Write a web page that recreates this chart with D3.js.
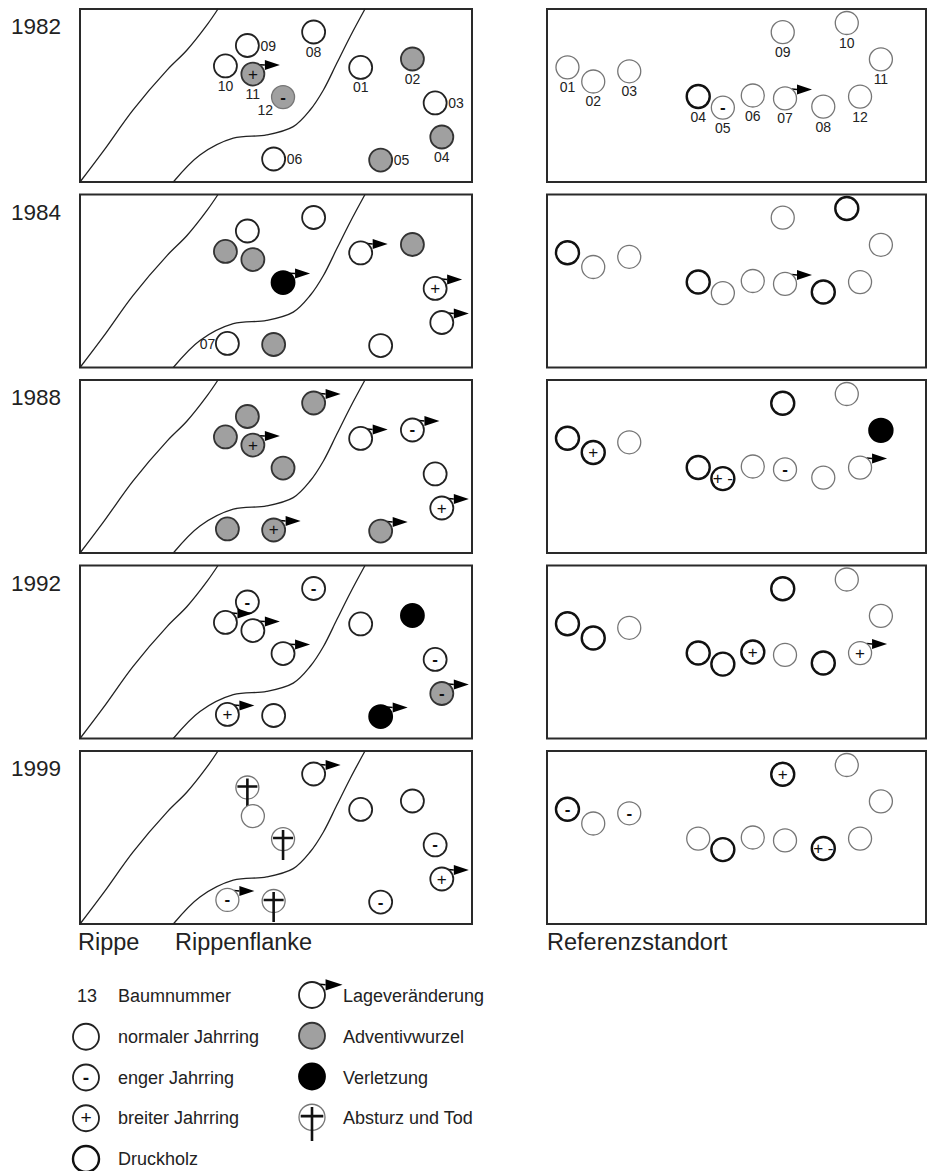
<!DOCTYPE html>
<html lang="de">
<head>
<meta charset="UTF-8">
<title>Baumzustand Rippe / Referenzstandort</title>
<script src="https://d3js.org/d3.v7.min.js"></script>
<style>
  body { margin: 0; background: #fff; }
  svg { display: block; font-family: "Liberation Sans", Arial, sans-serif; }
</style>
</head>
<body>
<svg id="chart" width="928" height="1171"></svg>
<script>
const years = ["1982", "1984", "1988", "1992", "1999"];
const treeIds = ["01", "02", "03", "04", "05", "06", "07", "08", "09", "10", "11", "12"];

// tree positions, percent of panel width / height
const rippeX = [71.6, 84.8, 90.6, 92.3, 76.7, 49.4, 37.6, 59.6, 42.7, 37.1, 44.1, 51.8];
const rippeY = [33.8, 28.9, 54.3, 74.0, 87.3, 86.7, 86.1, 13.3, 21.1, 32.9, 37.6, 50.9];
const refX = [5.4, 12.2, 21.7, 39.9, 46.4, 54.3, 62.8, 72.9, 62.2, 79.1, 88.1, 82.6];
const refY = [33.7, 41.9, 36.0, 50.6, 57.0, 50.0, 51.7, 56.4, 13.4, 8.1, 29.1, 50.6];

// terrain lines on the slope site (percent)
const ridgeLine = [[0, 100], [6, 82], [13.5, 58.4], [22.2, 35.3], [27.3, 23.7], [32.4, 9.2], [35.2, 0]];
const flankLine = [[23.8, 100], [30.6, 84.4], [39.1, 74.7], [47.6, 72.8], [54.4, 68], [58.7, 58.4],
                   [62.1, 46.8], [65.5, 31.4], [68.9, 16], [72.7, 0]];

// state per tree: [id, fill (w/g/b), ring (n normal, t thin, d Druckholz), sign, moved]
const rippe1982 = [["01","w","n","",0],["02","g","n","",0],["03","w","n","",0],["04","g","n","",0],
  ["05","g","n","",0],["06","w","n","",0],["08","w","n","",0],["09","w","n","",0],["10","w","n","",0],
  ["11","g","n","+",1],["12","g","t","-",0]];
const rippe1984 = [["01","w","n","",1],["02","g","n","",0],["03","w","n","+",1],["04","w","n","",1],
  ["05","w","n","",0],["06","g","n","",0],["07","w","n","",0],["08","w","n","",0],["09","w","n","",0],
  ["10","g","n","",0],["11","g","n","",0],["12","b","n","",1]];
const rippe1988 = [["01","w","n","",1],["02","w","n","-",1],["03","w","n","",0],["04","w","n","+",1],
  ["05","g","n","",1],["06","g","n","+",1],["07","g","n","",0],["08","g","n","",1],["09","g","n","",0],
  ["10","g","n","",0],["11","g","n","+",1],["12","g","n","",0]];
const rippe1992 = [["01","w","n","",0],["02","b","n","",0],["03","w","n","-",0],["04","g","n","-",1],
  ["05","b","n","",1],["06","w","n","",0],["07","w","n","+",1],["08","w","n","-",0],["09","w","n","-",0],
  ["10","w","n","",1],["11","w","n","",1],["12","w","n","",1]];
const rippe1999 = [["01","w","n","",0],["02","w","n","",0],["03","w","n","-",0],["04","w","n","+",1],
  ["05","w","n","-",0],["06","w","t","x",0],["07","w","t","-",1],["08","w","n","",1],["09","w","t","x",0],
  ["11","w","t","",0],["12","w","t","x",0]];

const ref1982 = [["01","w","t","",0],["02","w","t","",0],["03","w","t","",0],["04","w","d","",0],
  ["05","w","t","-",0],["06","w","t","",0],["07","w","t","",1],["08","w","t","",0],["09","w","t","",0],
  ["10","w","t","",0],["11","w","t","",0],["12","w","t","",0]];
const ref1984 = [["01","w","d","",0],["02","w","t","",0],["03","w","t","",0],["04","w","d","",0],
  ["05","w","t","",0],["06","w","t","",0],["07","w","t","",1],["08","w","d","",0],["09","w","t","",0],
  ["10","w","d","",0],["11","w","t","",0],["12","w","t","",0]];
const ref1988 = [["01","w","d","",0],["02","w","d","+",0],["03","w","t","",0],["04","w","d","",0],
  ["05","w","d","+-",0],["06","w","t","",0],["07","w","t","-",0],["08","w","t","",0],["09","w","d","",0],
  ["10","w","t","",0],["11","b","d","",0],["12","w","t","",1]];
const ref1992 = [["01","w","d","",0],["02","w","d","",0],["03","w","t","",0],["04","w","d","",0],
  ["05","w","d","",0],["06","w","d","+",0],["07","w","t","",0],["08","w","d","",0],["09","w","d","",0],
  ["10","w","t","",0],["11","w","t","",0],["12","w","t","+",1]];
const ref1999 = [["01","w","d","-",0],["02","w","t","",0],["03","w","t","-",0],["04","w","t","",0],
  ["05","w","d","",0],["06","w","t","",0],["07","w","t","",0],["08","w","d","+-",0],["09","w","d","+",0],
  ["10","w","t","",0],["11","w","t","",0],["12","w","t","",0]];

const rippeStates = [rippe1982, rippe1984, rippe1988, rippe1992, rippe1999];
const refStates = [ref1982, ref1984, ref1988, ref1992, ref1999];

// tree number labels: [year, site, id, placement]
const treeLabels = [
  ["1982","rippe","01","b"],["1982","rippe","02","b"],["1982","rippe","03","r"],["1982","rippe","04","b"],
  ["1982","rippe","05","r"],["1982","rippe","06","r"],["1982","rippe","08","b"],["1982","rippe","09","r"],
  ["1982","rippe","10","b"],["1982","rippe","11","b"],["1982","rippe","12","lb"],["1984","rippe","07","l"],
  ...treeIds.map(id => ["1982","ref",id,"b"])
];

const legendLeft = ["normaler Jahrring", "enger Jahrring", "breiter Jahrring", "Druckholz"];
const legendRight = ["Lageveränderung", "Adventivwurzel", "Verletzung", "Absturz und Tod"];

const svg = d3.select("#chart");
const panelH = 173;
const R = 11.5;
const fills = { w: "#fff", g: "#a0a0a0", b: "#000" };
const rings = {
  n: { stroke: "#222", width: 1.8 },
  t: { stroke: "#767676", width: 1.3 },
  d: { stroke: "#111", width: 2.4 }
};

const rowTop = d3.scalePoint().domain(years).range([9, 751]);

function drawTree(g, cx, cy, r, fill, ring, sign, moved) {
  const k = r / R;
  const rs = rings[ring];
  if (moved) {
    const a = -55 * Math.PI / 180;
    g.append("path")
      .attr("d", `M${cx + r * Math.cos(a)},${cy + r * Math.sin(a)} L${cx + 12 * k},${cy - 9 * k}`)
      .attr("stroke", "#000").attr("stroke-width", 1.5).attr("fill", "none");
    g.append("path")
      .attr("d", `M${cx + 12 * k},${cy - 14 * k} L${cx + 27 * k},${cy - 9 * k} L${cx + 12 * k},${cy - 4 * k}Z`)
      .attr("fill", "#000");
  }
  g.append("circle")
    .attr("cx", cx).attr("cy", cy).attr("r", r)
    .attr("fill", fills[fill])
    .attr("stroke", fill === "b" ? "#000" : (fill === "g" && ring === "n" ? "#333" : rs.stroke))
    .attr("stroke-width", rs.width);
  if (sign === "x") {
    g.append("path")
      .attr("d", `M${cx - 10 * k},${cy - 1 * k} H${cx + 10 * k} M${cx},${cy - 9 * k} V${cy + 21 * k}`)
      .attr("stroke", "#111").attr("stroke-width", 2.6).attr("fill", "none");
  } else if (sign) {
    g.append("text")
      .attr("x", cx).attr("y", cy + 5.5 * k)
      .attr("text-anchor", "middle")
      .attr("font-size", 17 * k)
      .attr("font-weight", sign === "-" ? "bold" : "normal")
      .attr("fill", "#111")
      .text(sign === "+-" ? "+ -" : sign);
  }
}

function drawPanel(year, i, site) {
  const top = rowTop(year);
  const x0 = site === "rippe" ? 80 : 547;
  const x1 = site === "rippe" ? 472 : 926;
  const x = d3.scaleLinear().domain([0, 100]).range([x0, x1]);
  const y = d3.scaleLinear().domain([0, 100]).range([top, top + panelH]);
  const g = svg.append("g").attr("class", `panel ${site}`);

  g.append("rect")
    .attr("x", x0).attr("y", top).attr("width", x1 - x0).attr("height", panelH)
    .attr("fill", "#fff").attr("stroke", "#2a2a2a").attr("stroke-width", 2);

  if (site === "rippe") {
    const line = d3.line().x(d => x(d[0])).y(d => y(d[1])).curve(d3.curveCatmullRom);
    [ridgeLine, flankLine].forEach(pts => {
      g.append("path").attr("d", line(pts))
        .attr("fill", "none").attr("stroke", "#222").attr("stroke-width", 1.3);
    });
  }

  const px = site === "rippe" ? rippeX : refX;
  const py = site === "rippe" ? rippeY : refY;
  const states = (site === "rippe" ? rippeStates : refStates)[i];

  states.forEach(([id, fill, ring, sign, moved]) => {
    const t = treeIds.indexOf(id);
    drawTree(g, x(px[t]), y(py[t]), R, fill, ring, sign, moved);
  });

  treeLabels.filter(l => l[0] === year && l[1] === site).forEach(([, , id, pos]) => {
    const t = treeIds.indexOf(id);
    const cx = x(px[t]), cy = y(py[t]);
    const off = {
      b: [0, 25, "middle"], r: [13, 5, "start"], l: [-12, 6, "end"], lb: [-10, 18, "end"]
    }[pos];
    g.append("text")
      .attr("x", cx + off[0]).attr("y", cy + off[1])
      .attr("text-anchor", off[2])
      .attr("font-size", 14).attr("fill", "#222")
      .text(id);
  });

  if (site === "rippe") {
    svg.append("text")
      .attr("x", 11).attr("y", top + 25)
      .attr("font-size", 22.5).attr("fill", "#222")
      .text(year);
  }
}

years.forEach((yr, i) => {
  drawPanel(yr, i, "rippe");
  drawPanel(yr, i, "ref");
});

// site captions
[["Rippe", 78], ["Rippenflanke", 175], ["Referenzstandort", 547]].forEach(([t, xx]) => {
  svg.append("text").attr("x", xx).attr("y", 950)
    .attr("font-size", 23.5).attr("fill", "#222").text(t);
});

// legend
const legendRow = d3.scalePoint().domain(d3.range(5)).range([1002, 1165]);
const lg = svg.append("g").attr("class", "legend");
lg.append("text").attr("x", 77).attr("y", legendRow(0)).attr("font-size", 18).attr("fill", "#222").text("13");
lg.append("text").attr("x", 118).attr("y", legendRow(0)).attr("font-size", 18).attr("fill", "#222").text("Baumnummer");

const leftSyms = [["w", "n", "", 0], ["w", "n", "-", 0], ["w", "n", "+", 0], ["w", "d", "", 0]];
legendLeft.forEach((label, i) => {
  const yy = legendRow(i + 1);
  const s = leftSyms[i];
  drawTree(lg, 86, yy - 6, 13, s[0], s[1], s[2], s[3]);
  lg.append("text").attr("x", 118).attr("y", yy).attr("font-size", 18).attr("fill", "#222").text(label);
});

const rightSyms = [["w", "n", "", 1], ["g", "n", "", 0], ["b", "n", "", 0], ["w", "t", "x", 0]];
legendRight.forEach((label, i) => {
  const yy = legendRow(i);
  const s = rightSyms[i];
  drawTree(lg, 312, yy - 7, 13, s[0], s[1], s[2], s[3]);
  lg.append("text").attr("x", 343).attr("y", yy).attr("font-size", 18).attr("fill", "#222").text(label);
});
</script>
</body>
</html>
